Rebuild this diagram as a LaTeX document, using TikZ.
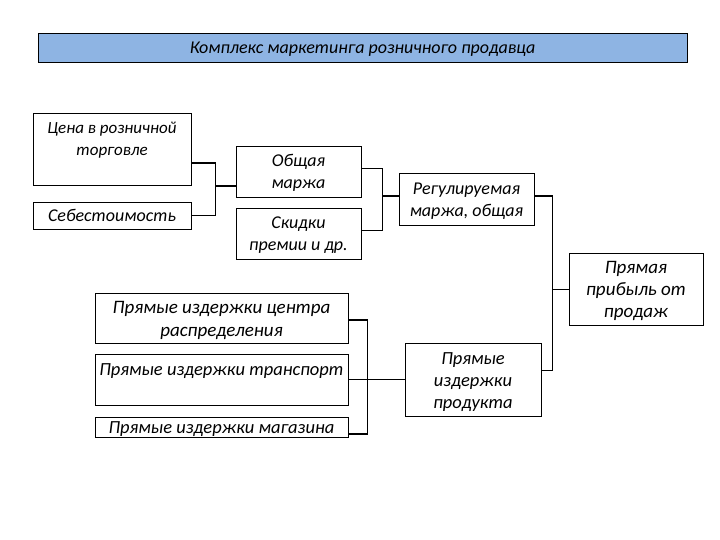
\documentclass[tikz,border=0pt]{standalone}
\usepackage{fontspec}
\setmainfont{Carlito}
\usetikzlibrary{calc}
\definecolor{titleblue}{HTML}{8EB4E3}
\newcommand\ta{\rule{0pt}{18pt}}
\newcommand\tb{\rule[-5pt]{0pt}{5pt}}
\begin{document}
\begin{tikzpicture}[x=1pt,y=-1pt,
  box/.style={draw=black,line width=0.7pt,rectangle,inner sep=0pt,align=center,
    font=\fontsize{18}{22}\selectfont\itshape},
  fs/.style={font=\fontsize{#1}{22}\selectfont\itshape},
  brk/.style={line width=1.3pt},
  thin/.style={line width=0.7pt}]
\useasboundingbox (0,0) rectangle (720,540);
\node[box,fill=titleblue,minimum width=649,minimum height=29] (T) at (362.5,47.5) {\ta Комплекс маркетинга розничного продавца\tb};
\node[box,fs=17,minimum width=158,minimum height=72] (A) at (112,149) {\ta Цена в розничной\\торговле\\\tb};
\node[box,minimum width=158,minimum height=27] (B) at (112,215.5) {\ta Себестоимость\tb};
\node[box,minimum width=125,minimum height=51] (C) at (298.5,171.5) {\ta Общая\\маржа\tb};
\node[box,minimum width=125,minimum height=51] (D) at (298.5,233.5) {\ta Скидки\\премии и др.\tb};
\node[box,minimum width=135,minimum height=52] (E) at (466.5,199) {\ta Регулируемая\\маржа, общая\tb};
\node[box,fs=19,minimum width=134,minimum height=72] (F) at (636,289) {\ta Прямая\\прибыль от\\продаж\tb};
\node[box,font=\fontsize{19}{23}\selectfont\itshape,minimum width=253,minimum height=50] (G) at (221.5,318) {\ta Прямые издержки центра\\распределения\tb};
\node[box,fs=18.5,minimum width=253,minimum height=51] (H) at (221.5,379.5) {\ta Прямые издержки транспорт\\\tb};
\node[box,fs=18.5,minimum width=253,minimum height=20] (I) at (221.5,427) {\rule{0pt}{15.5pt}Прямые издержки магазина\rule[-3.5pt]{0pt}{3.5pt}};
\node[box,fs=18.5,minimum width=136,minimum height=73] (J) at (473,379.5) {\ta Прямые\\издержки\\продукта\tb};
% A, B -> C
\draw[brk] ($(A.east)+(0,14)$) -- ++(24,0) coordinate (ab) |- (B.east);
\draw[brk] ($(C.west)+(0,14.5)$) -- (ab |- {$(C.west)+(0,14.5)$});
% C, D -> E
\draw[brk] ($(C.east)+(0,-3)$) -- ++(21,0) coordinate (cd) |- ($(D.east)+(0,-3)$);
\draw[brk] ($(E.west)+(0,-3)$) -- (cd |- {$(E.west)+(0,-3)$});
% E -> F, J
\draw[brk] ($(E.east)+(0,-3)$) -- ++(18,0) coordinate (ef) -- (ef |- {$(J.east)+(0,-9)$});
\draw[thin] (ef |- {$(J.east)+(0,-9)$}) -- ($(J.east)+(0,-9)$);
\draw[thin] (F.west) -- (ef |- F.west);
% G, H, I -> J
\draw[brk] ($(G.east)+(0,2)$) -- ++(19,0) coordinate (gh) |- ($(I.east)+(0,7)$);
\draw[brk] (H.east) -- (gh |- H.east);
\draw[thin] (J.west) -- (gh |- J.west);
\end{tikzpicture}
\end{document}
